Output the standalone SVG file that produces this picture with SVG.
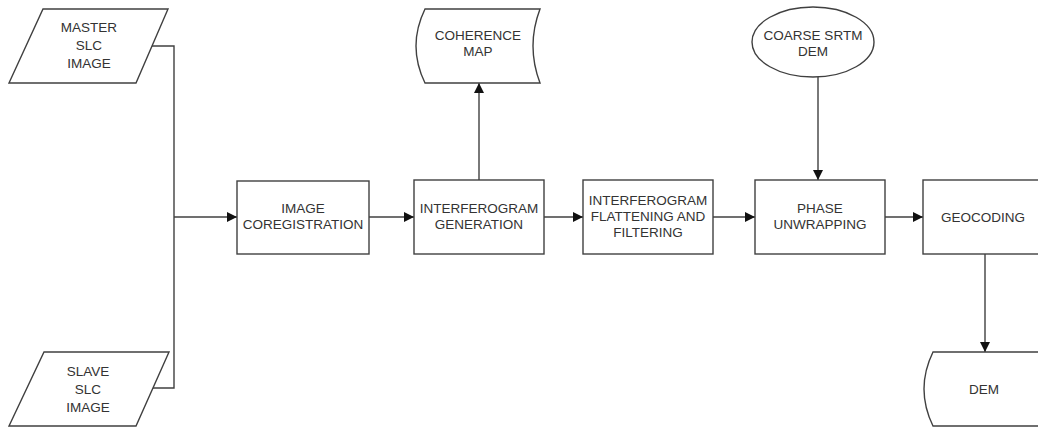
<svg xmlns="http://www.w3.org/2000/svg" width="1038" height="427" viewBox="0 0 1038 427">
<style>
.s{fill:#fff;stroke:#404040;stroke-width:1.4}
.t{font-family:"Liberation Sans",Arial,sans-serif;font-size:13.5px;fill:#333;text-anchor:middle}
.c{fill:none;stroke:#404040;stroke-width:1.4}
</style>
<defs>
<marker id="ah" viewBox="0 0 10 10" refX="10" refY="5" markerWidth="10" markerHeight="10" markerUnits="userSpaceOnUse" orient="auto">
<path d="M0,0 L10,5 L0,10 z" fill="#111"/>
</marker>
</defs>
<g id="connectors">
<polyline class="c" points="152,46 174,46 174,388 152,388"/>
<line class="c" x1="174" y1="217" x2="237" y2="217" marker-end="url(#ah)"/>
<line class="c" x1="369" y1="217" x2="414" y2="217" marker-end="url(#ah)"/>
<line class="c" x1="479" y1="180" x2="479" y2="83" marker-end="url(#ah)"/>
<line class="c" x1="544" y1="217" x2="583" y2="217" marker-end="url(#ah)"/>
<line class="c" x1="713" y1="217" x2="755" y2="217" marker-end="url(#ah)"/>
<line class="c" x1="818" y1="77" x2="818" y2="180" marker-end="url(#ah)"/>
<line class="c" x1="885" y1="217" x2="923" y2="217" marker-end="url(#ah)"/>
<line class="c" x1="985" y1="254" x2="985" y2="352" marker-end="url(#ah)"/>
</g>
<g id="master">
<polygon class="s" points="43,9 168,9 136,83 9,83"/>
<text class="t" x="89" y="32">MASTER</text>
<text class="t" x="89" y="50">SLC</text>
<text class="t" x="89" y="68">IMAGE</text>
</g>
<g id="slave">
<polygon class="s" points="44,352 169,352 136,426 9,426"/>
<text class="t" x="88" y="376">SLAVE</text>
<text class="t" x="88" y="394">SLC</text>
<text class="t" x="88" y="412">IMAGE</text>
</g>
<g id="coreg">
<rect class="s" x="237" y="181" width="132" height="73"/>
<text class="t" x="303" y="213">IMAGE</text>
<text class="t" x="303" y="229">COREGISTRATION</text>
</g>
<g id="ifg">
<rect class="s" x="414" y="180" width="130" height="74"/>
<text class="t" x="479" y="213">INTERFEROGRAM</text>
<text class="t" x="479" y="229">GENERATION</text>
</g>
<g id="coherence">
<path class="s" d="M425,9 L540,9 Q526,46 540,83 L425,83 Q407,46 425,9 Z"/>
<text class="t" x="478" y="40">COHERENCE</text>
<text class="t" x="478" y="56">MAP</text>
</g>
<g id="flatten">
<rect class="s" x="583" y="180" width="130" height="74"/>
<text class="t" x="648" y="205">INTERFEROGRAM</text>
<text class="t" x="648" y="221">FLATTENING AND</text>
<text class="t" x="648" y="237">FILTERING</text>
</g>
<g id="phase">
<rect class="s" x="755" y="180" width="130" height="74"/>
<text class="t" x="820" y="213">PHASE</text>
<text class="t" x="820" y="229">UNWRAPPING</text>
</g>
<g id="srtm">
<ellipse class="s" cx="813" cy="42" rx="61" ry="35"/>
<text class="t" x="813" y="40">COARSE SRTM</text>
<text class="t" x="813" y="56">DEM</text>
</g>
<g id="geocoding">
<rect class="s" x="923" y="180" width="130" height="74"/>
<text class="t" x="983" y="222">GEOCODING</text>
</g>
<g id="dem">
<path class="s" d="M933,352 L1048,352 Q1030,389 1048,426 L933,426 Q915,389 933,352 Z"/>
<text class="t" x="984" y="394">DEM</text>
</g>
</svg>
